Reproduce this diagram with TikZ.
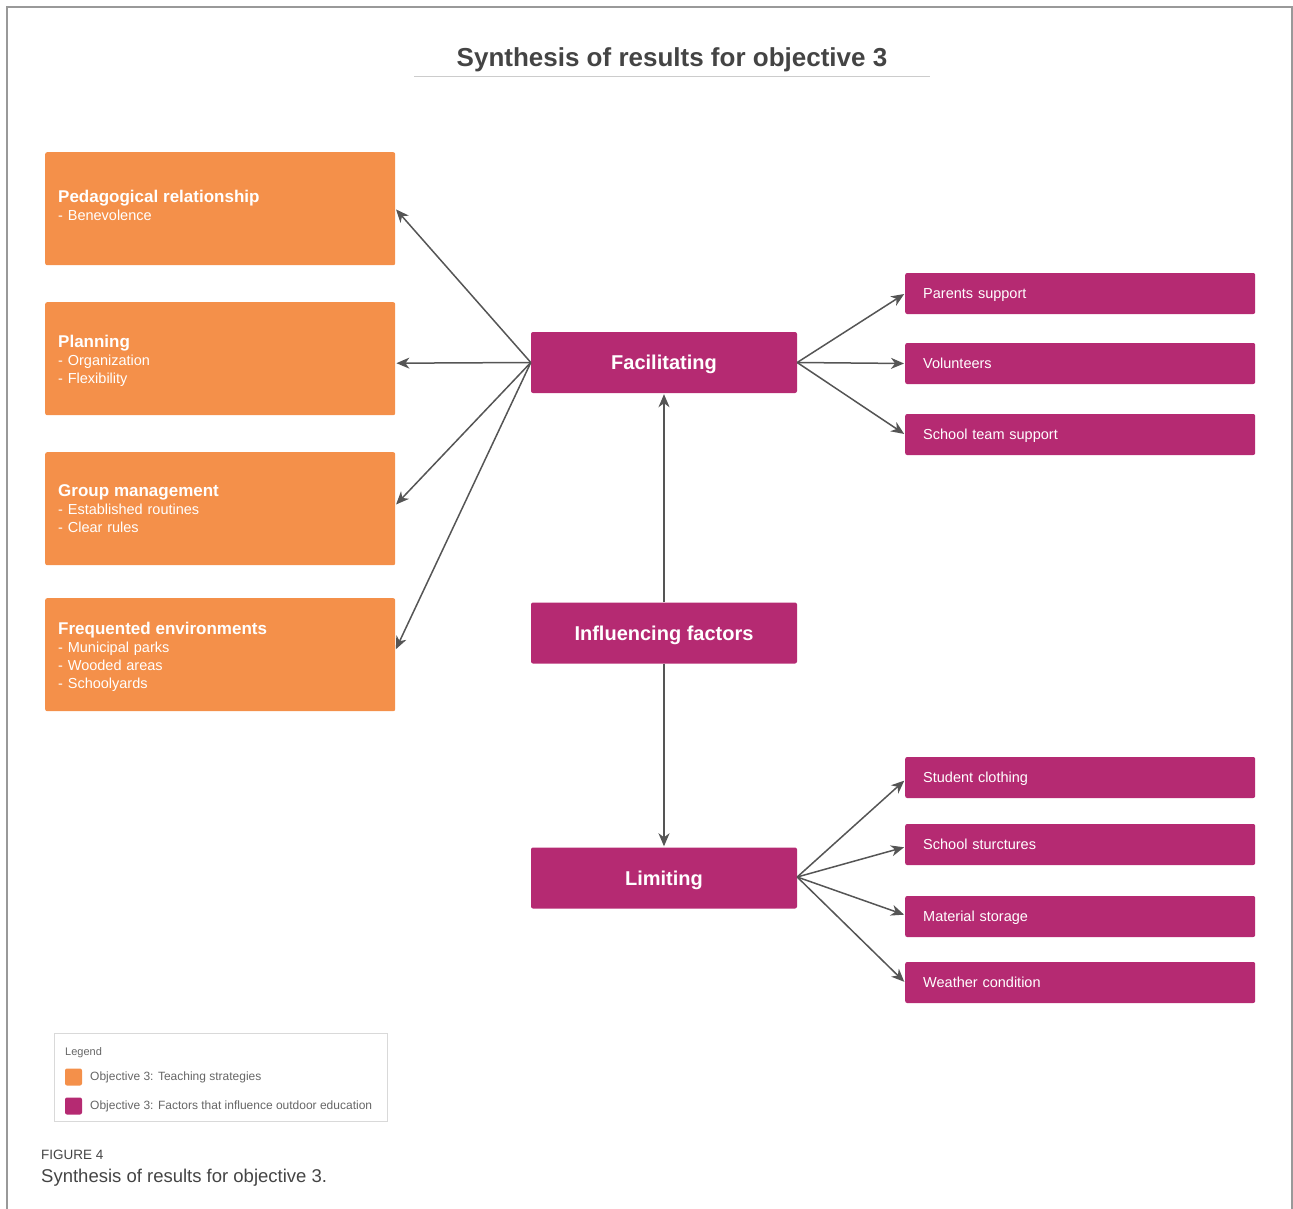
\documentclass[tikz,border=0pt]{standalone}
\usepackage{fontspec}
\setmainfont{Liberation Sans}
\usetikzlibrary{arrows.meta}
\definecolor{orng}{HTML}{F4904A}
\definecolor{mgnt}{HTML}{B52A72}
\definecolor{arr}{HTML}{555555}
\definecolor{ttl}{HTML}{444444}
\begin{document}
\begin{tikzpicture}[x=1pt,y=-1pt,
  obox/.style={fill=orng, rounded corners=2pt, minimum height=113pt, minimum width=350pt, inner sep=0pt, anchor=north west},
  otext/.style={text width=324pt, inner sep=0pt, align=left, text=white, anchor=west, font=\fontsize{14.5}{18}\selectfont},
  cbox/.style={fill=mgnt, rounded corners=2pt, minimum width=266pt, minimum height=61pt, text=white, text height=14.4pt, text depth=0pt, font=\bfseries\fontsize{20}{24}\selectfont},
  rbox/.style={fill=mgnt, rounded corners=2pt, minimum height=41pt, text width=314pt, inner xsep=18pt, align=left, text=white, anchor=west, text height=10.4pt, text depth=0pt, font=\fontsize{14.5}{17}\selectfont},
  con/.style={draw=arr, line width=1.5pt, -{Stealth[length=13pt,width=11pt,inset=4pt]}, shorten >=1pt}
]
\useasboundingbox (0,0) rectangle (1293,1209);
% frame
\draw[draw=black!40, line width=1.5pt] (7,1209) -- (7,7) -- (1292,7) -- (1292,1209);
% title
\node[font=\bfseries\fontsize{26}{30}\selectfont, text=ttl, text height=18.7pt, text depth=0pt] (title) at (672,57) {Synthesis of results for objective 3};
\draw[draw=black!20, line width=1pt] (414,77) -- (930,77);

% orange boxes
\node[obox] (pr) at (45,152) {};
\node[obox] (pl) at (45,302) {};
\node[obox] (gm) at (45,452) {};
\node[obox] (fe) at (45,598) {};
\node[otext, yshift=3pt] (prt) at ([xshift=13pt]pr.west) {{\bfseries\fontsize{17}{19}\selectfont Pedagogical relationship}\\- Benevolence};
\node[otext, yshift=-2.5pt] (plt) at ([xshift=13pt]pl.west) {{\bfseries\fontsize{17}{19}\selectfont Planning}\\- Organization\\- Flexibility};
\node[otext] (gmt) at ([xshift=13pt]gm.west) {{\bfseries\fontsize{17}{19}\selectfont Group management}\\- Established routines\\- Clear rules};
\node[otext, yshift=-2.5pt] (fet) at ([xshift=13pt]fe.west) {{\bfseries\fontsize{17}{19}\selectfont Frequented environments}\\- Municipal parks\\- Wooded areas\\- Schoolyards};

% central boxes
\node[cbox] (fac) at (664,362.5) {Facilitating};
\node[cbox] (inf) at (664,633) {Influencing factors};
\node[cbox] (lim) at (664,878) {Limiting};

% right boxes
\node[rbox] (ps) at (905,293.5) {Parents support};
\node[rbox] (vo) at (905,363.5) {Volunteers};
\node[rbox] (st) at (905,434.5) {School team support};
\node[rbox] (sc) at (905,777.5) {Student clothing};
\node[rbox] (ss) at (905,844.5) {School sturctures};
\node[rbox] (ms) at (905,916.5) {Material storage};
\node[rbox] (wc) at (905,982.5) {Weather condition};

% connectors
\draw[con] (fac.west) -- (pr.east);
\draw[con] (fac.west) -- ([yshift=-4.5pt]pl.east);
\draw[con] (fac.west) -- ([yshift=3.5pt]gm.east);
\draw[con] (fac.west) -- ([yshift=4.5pt]fe.east);
\draw[con] (fac.east) -- (ps.west);
\draw[con] (fac.east) -- (vo.west);
\draw[con] (fac.east) -- (st.west);
\draw[con] (inf.north) -- (fac.south);
\draw[con] (inf.south) -- (lim.north);
\draw[con] ([yshift=1pt]lim.east) -- ([yshift=-2.5pt]sc.west);
\draw[con] ([yshift=1pt]lim.east) -- ([yshift=-2.5pt]ss.west);
\draw[con] ([yshift=1pt]lim.east) -- ([yshift=1.5pt]ms.west);
\draw[con] ([yshift=1pt]lim.east) -- (wc.west);

% legend
\node[draw=black!15, line width=1pt, minimum width=333pt, minimum height=88pt, anchor=north west, inner sep=0pt] (leg) at (54,1033) {};
\node[anchor=west, font=\fontsize{11}{13}\selectfont, text=black!60, inner sep=0pt] (legt) at (65,1053) {Legend};
\node[fill=orng, rounded corners=2pt, minimum size=17pt, inner sep=0pt] (sw1) at (73.5,1077) {};
\node[fill=mgnt, rounded corners=2pt, minimum size=17pt, inner sep=0pt] (sw2) at (73.5,1106) {};
\node[anchor=west, font=\fontsize{12}{14}\selectfont, text=black!60, inner sep=0pt] (l1) at (90,1077) {Objective 3: Teaching strategies};
\node[anchor=west, font=\fontsize{12}{14}\selectfont, text=black!60, inner sep=0pt] (l2) at (90,1106) {Objective 3: Factors that influence outdoor education};

% caption
\node[anchor=west, font=\fontsize{13.5}{15}\selectfont, text=ttl, inner sep=0pt] (fig) at (41,1155) {FIGURE 4};
\node[anchor=west, font=\fontsize{18.5}{21}\selectfont, text=ttl, inner sep=0pt] (cap) at (41,1178) {Synthesis of results for objective 3.};
\end{tikzpicture}
\end{document}
